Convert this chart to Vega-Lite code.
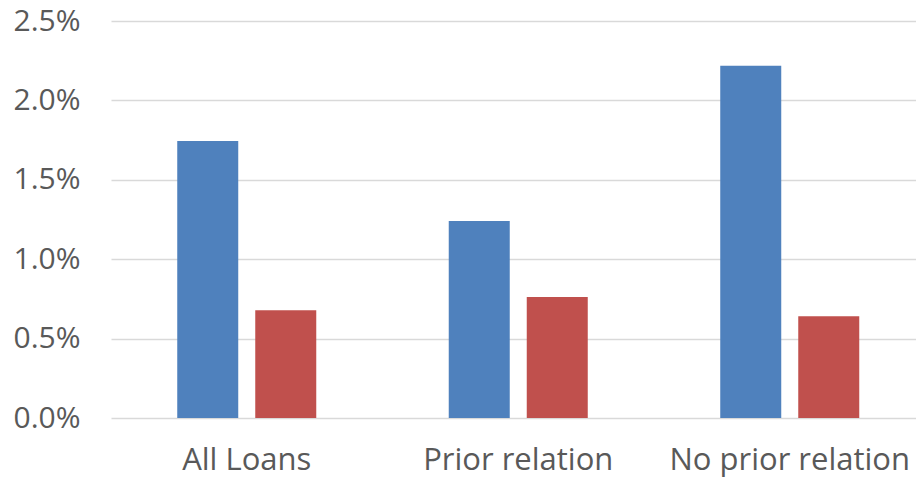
{
  "$schema": "https://vega.github.io/schema/vega-lite/v6.json",
  "width": 814.5,
  "height": 397,
  "autosize": "none",
  "padding": {"left": 111, "top": 21, "right": 0, "bottom": 61},
  "background": "white",
  "data": {"values": [
    {"group": "All Loans", "series": "A", "value": 0.01745},
    {"group": "All Loans", "series": "B", "value": 0.00678},
    {"group": "Prior relation", "series": "A", "value": 0.0124},
    {"group": "Prior relation", "series": "B", "value": 0.00762},
    {"group": "No prior relation", "series": "A", "value": 0.02218},
    {"group": "No prior relation", "series": "B", "value": 0.0064}
  ]},
  "config": {
    "view": {"stroke": null},
    "font": "Open Sans"
  },
  "mark": {"type": "bar"},
  "encoding": {
    "x": {
      "field": "group", "type": "nominal", "sort": null,
      "scale": {"paddingInner": 0.488, "paddingOuter": 0.244},
      "axis": {"title": null, "labelAngle": 0, "labelFontSize": 31, "labelColor": "#595959", "labelPadding": 27, "labelLimit": 0, "ticks": false, "domain": false, "labelFont": "Open Sans"}
    },
    "xOffset": {"field": "series", "type": "nominal", "scale": {"paddingInner": 0.218, "paddingOuter": 0}},
    "y": {
      "field": "value", "type": "quantitative",
      "scale": {"domain": [0, 0.025], "nice": false},
      "axis": {"title": null, "format": ".1%", "values": [0, 0.005, 0.01, 0.015, 0.02, 0.025], "labelFontSize": 30, "labelColor": "#595959", "labelPadding": 31, "ticks": false, "domain": false, "gridColor": "#D9D9D9", "gridWidth": 1.5, "labelFont": "Open Sans"}
    },
    "color": {
      "field": "series", "type": "nominal",
      "scale": {"domain": ["A", "B"], "range": ["#4F81BD", "#C0504D"]},
      "legend": null
    }
  }
}
